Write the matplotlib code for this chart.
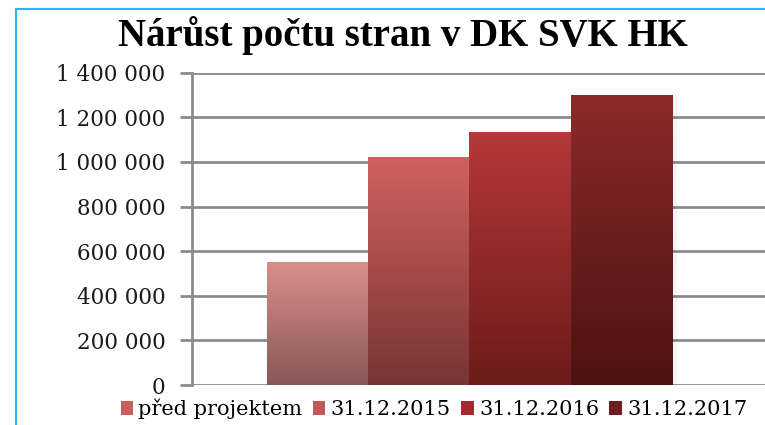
import numpy as np
import matplotlib.pyplot as plt
from matplotlib.patches import Patch
from matplotlib.lines import Line2D
from matplotlib.colors import LinearSegmentedColormap
from matplotlib.ticker import FuncFormatter

TITLE = "Nárůst počtu stran v DK SVK HK"
SERIES = ["před projektem", "31.12.2015", "31.12.2016", "31.12.2017"]
PAGES = [550000, 1020000, 1135000, 1300000]
Y_TICKS = [0, 200000, 400000, 600000, 800000, 1000000, 1200000, 1400000]

# top / bottom colour of each bar gradient
TOP_COLORS = ["#db8e8c", "#d0625f", "#b63838", "#8b2a2a"]
BOTTOM_COLORS = ["#875857", "#783434", "#6c1b1b", "#4d1212"]
LEGEND_COLORS = ["#c8605e", "#c45a57", "#a52a2a", "#6e1e1e"]

GRID_COLOR = "#8c8c8c"
FRAME_COLOR = "#29b6ee"
FONT = "DejaVu Serif"

fig = plt.figure(figsize=(7.65, 4.25), dpi=100)
fig.patch.set_facecolor("white")
W, H = 765, 425
ax = fig.add_axes([192 / W, 40 / H, 1 - 192 / W, (385 - 72.7) / H])

bar_w = 0.2
offsets = (np.arange(len(SERIES)) - 1.5) * bar_w
bars = ax.bar(offsets, PAGES, width=bar_w, color="none", edgecolor="none", zorder=3)

for bar, c_top, c_bot in zip(bars, TOP_COLORS, BOTTOM_COLORS):
    x0, y0 = bar.get_x(), bar.get_y()
    bw, bh = bar.get_width(), bar.get_height()
    # soft shadow to the right
    ax.add_patch(plt.Rectangle((x0 + bw, y0), 0.01, bh * 0.995, color="#000000",
                               alpha=0.04, zorder=2, lw=0))
    cmap = LinearSegmentedColormap.from_list("g", [c_bot, c_top])
    grad = np.linspace(0, 1, 256).reshape(-1, 1)
    im = ax.imshow(grad, cmap=cmap, aspect="auto", origin="lower",
                   extent=[x0, x0 + bw, y0, y0 + bh], zorder=3)
    im.set_clip_path(bar)

ax.set_xlim(-0.548, 0.584)
ax.set_ylim(0, 1400000)
ax.set_yticks(Y_TICKS)
ax.yaxis.set_major_formatter(FuncFormatter(lambda v, p: f"{int(v):,}".replace(",", " ")))
ax.set_xticks([])
ax.grid(axis="y", color=GRID_COLOR, linewidth=2, zorder=1)
for s in ["top", "right", "bottom"]:
    ax.spines[s].set_visible(False)
ax.spines["left"].set_color(GRID_COLOR)
ax.spines["left"].set_linewidth(2)
ax.tick_params(axis="y", length=9, width=2, color=GRID_COLOR, pad=10,
               labelsize=15.5, labelcolor="#1a1a1a")
for lbl in ax.get_yticklabels():
    lbl.set_family(FONT)

fig.text(403 / W, 1 - 36 / H, TITLE, ha="center", va="center", fontsize=28,
         fontweight="bold", family="Liberation Serif", color="black")

handles = [Patch(facecolor=c, edgecolor="none") for c in LEGEND_COLORS]
leg = fig.legend(handles, SERIES, loc="center", bbox_to_anchor=(434 / W, 1 - 409 / H),
                 ncol=4, frameon=False, handlelength=0.6, handleheight=0.6,
                 handletextpad=0.25, columnspacing=0.5, borderpad=0.1,
                 prop={"family": FONT, "size": 15})

fig.add_artist(Line2D([16 / W, 1], [1 - 9 / H, 1 - 9 / H], color=FRAME_COLOR, lw=1.5))
fig.add_artist(Line2D([16 / W, 16 / W], [0, 1 - 9 / H], color=FRAME_COLOR, lw=1.5))

fig.savefig("out.png", dpi=100)
